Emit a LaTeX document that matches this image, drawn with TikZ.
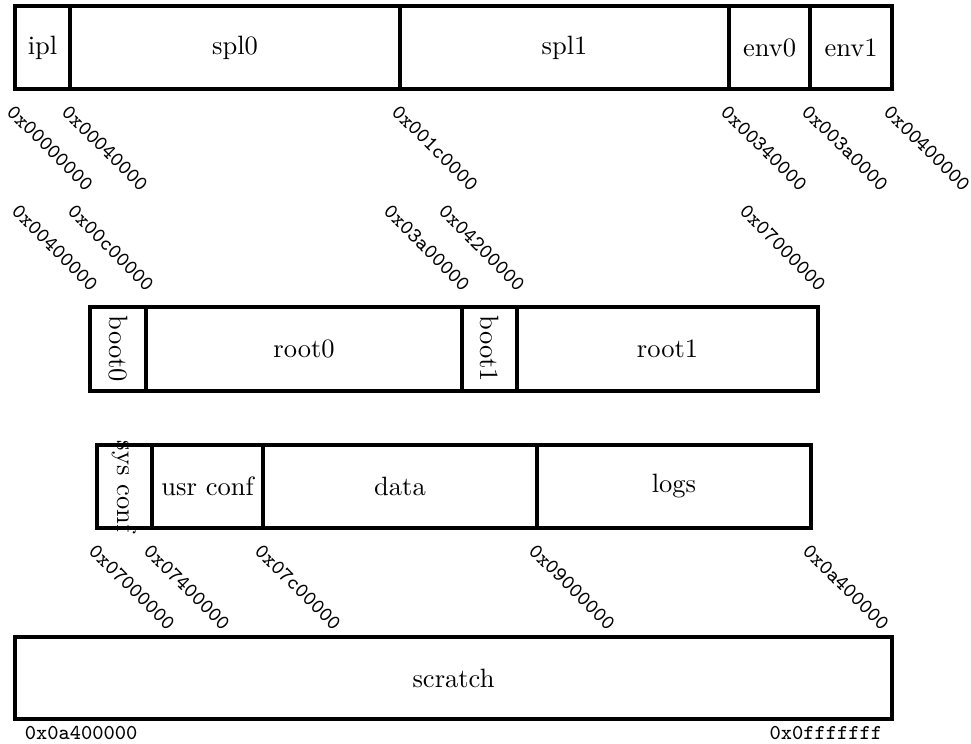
\documentclass[tikz,border=0pt]{standalone}

\tikzset{
  addrdown/.style={font=\ttfamily\footnotesize, rotate=-45, anchor=north west},
  addrup/.style={font=\ttfamily\footnotesize, rotate=-45, anchor=south east},
  addrflat/.style={font=\ttfamily\footnotesize, inner sep=2pt},
}

\begin{document}
\begin{tikzpicture}[x=0.3774pt, y=-0.3774pt, very thick]
            \useasboundingbox (0,0) rectangle (971,743);
            % first flash: ipl ... env1
            \draw (15,6) rectangle node (ipl) {ipl} (70,89);
            \draw (70,6) rectangle node (spl0) {spl0} (400,89);
            \draw (400,6) rectangle node (spl1) {spl1} (729,89);
            \draw (729,6) rectangle node (env0) {env0} (810,89);
            \draw (810,6) rectangle node (env1) {env1} (892,89);
            \node[addrdown] (a1) at (15,89) {0x00000000};
            \node[addrdown] (a2) at (70,89) {0x00040000};
            \node[addrdown] (a3) at (400,89) {0x001c0000};
            \node[addrdown] (a4) at (729,89) {0x00340000};
            \node[addrdown] (a5) at (810,89) {0x003a0000};
            \node[addrdown] (a6) at (892,89) {0x00400000};
            % boot and root
            \draw (90,307) rectangle node[rotate=-90] (boot0) {boot0} (146,391);
            \draw (146,307) rectangle node (root0) {root0} (462,391);
            \draw (462,307) rectangle node[rotate=-90] (boot1) {boot1} (517,391);
            \draw (517,307) rectangle node (root1) {root1} (818,391);
            \node[addrup] (b1) at (90,307) {0x00400000};
            \node[addrup] (b2) at (146,307) {0x00c00000};
            \node[addrup] (b3) at (462,307) {0x03a00000};
            \node[addrup] (b4) at (517,307) {0x04200000};
            \node[addrup] (b5) at (818,307) {0x07000000};
            % conf, data, logs
            \draw (97,445) rectangle node[rotate=-90] (sysconf) {sys conf} (152,528);
            \draw (152,445) rectangle node (usrconf) {usr conf} (263,528);
            \draw (263,445) rectangle node (data) {data} (537,528);
            \draw (537,445) rectangle node (logs) {logs} (811,528);
            \node[addrdown] (c1) at (97,528) {0x07000000};
            \node[addrdown] (c2) at (152,528) {0x07400000};
            \node[addrdown] (c3) at (263,528) {0x07c00000};
            \node[addrdown] (c4) at (537,528) {0x09000000};
            \node[addrdown] (c5) at (811,528) {0x0a400000};
            % scratch
            \draw (15,637) rectangle node (scratch) {scratch} (892,719);
            \node[addrflat, anchor=north west] (d1) at (18,719) {0x0a400000};
            \node[addrflat, anchor=north east] (d2) at (889,719) {0x0fffffff};
        \end{tikzpicture}
\end{document}
